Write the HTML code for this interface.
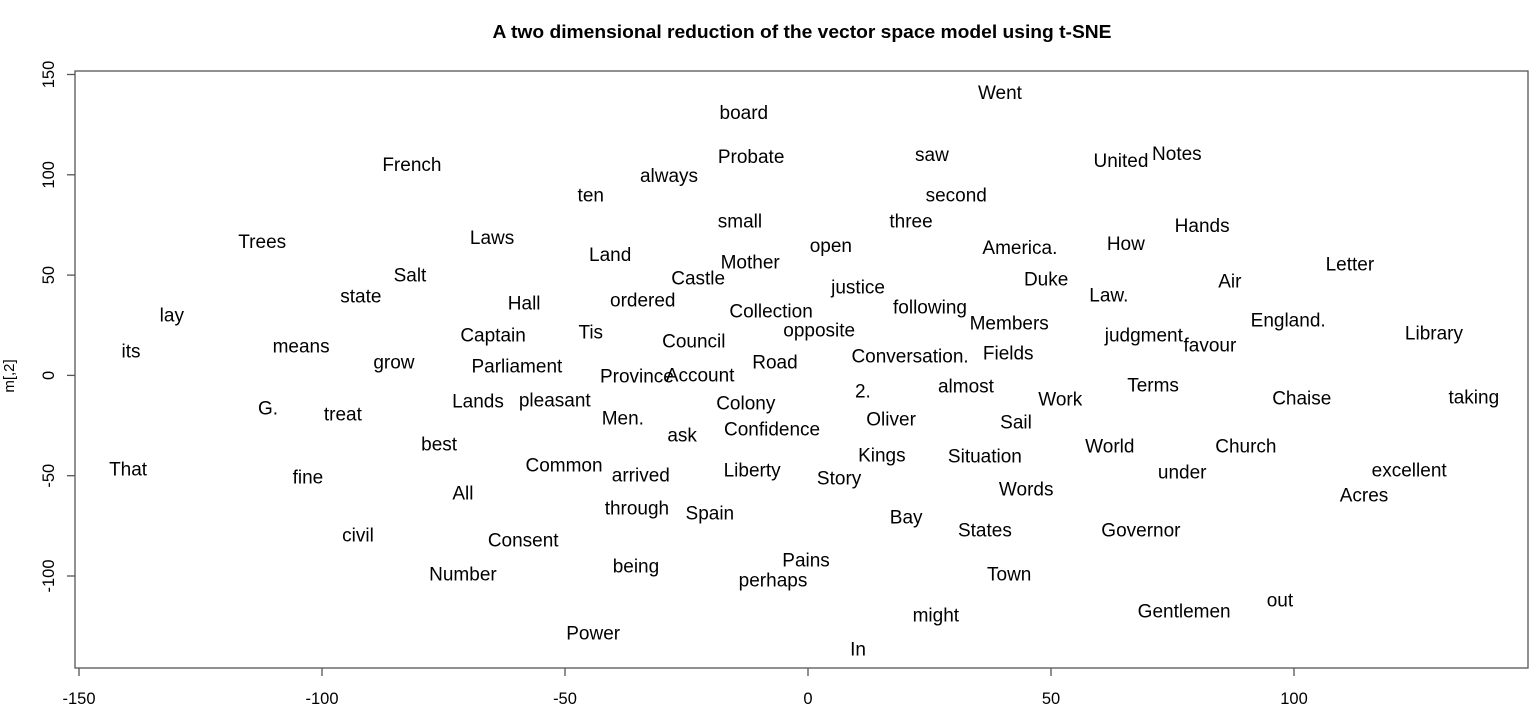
<!DOCTYPE html>
<html><head><meta charset="utf-8"><style>
html,body{margin:0;padding:0;background:#fff;}
svg{display:block;font-family:"Liberation Sans",Arial,sans-serif;}
</style></head><body>
<svg id="chart" width="1539" height="720">
<text x="802" y="38" text-anchor="middle" font-size="18" font-weight="bold" textLength="619" lengthAdjust="spacingAndGlyphs">A two dimensional reduction of the vector space model using t-SNE</text>
<rect x="75" y="71" width="1453" height="597" fill="none" stroke="#555" stroke-width="1.3"/>
<text transform="translate(14,376) rotate(-90)" text-anchor="middle" font-size="15">m[,2]</text>
<g id="axes"></g>
<g id="words"></g>
</svg>
<script>
const words = ["Went","board","French","saw","United","Notes","Probate","always","ten","second","small","three","Hands","Trees","Laws","open","America.","How","Land","Mother","Letter","Salt","Castle","Duke","Air","justice","state","Hall","ordered","Law.","following","Collection","lay","England.","Members","Captain","Tis","opposite","judgment","Library","Council","favour","its","means","Fields","Conversation.","grow","Parliament","Road","Province","Account","Terms","almost","2.","Chaise","taking","Work","G.","Lands","pleasant","Colony","treat","Men.","Oliver","Sail","ask","Confidence","best","World","Church","Kings","Situation","That","Common","Liberty","under","excellent","fine","arrived","Story","All","Words","Acres","through","Spain","Bay","civil","States","Governor","Consent","Pains","being","Number","Town","perhaps","out","Gentlemen","might","Power","In"];
const xVals = [39.5,-13.2,-81.5,25.5,64.4,75.9,-11.7,-28.6,-44.7,30.5,-14.0,21.2,81.1,-112.3,-65.0,4.7,43.6,65.4,-40.7,-11.9,111.5,-81.9,-22.6,49.0,86.8,10.3,-92.0,-58.4,-34.0,61.9,25.1,-7.6,-130.9,98.8,41.4,-64.8,-44.7,2.3,69.1,128.8,-23.5,82.7,-139.3,-104.3,41.2,21.0,-85.2,-59.9,-6.8,-35.2,-22.2,71.0,32.5,11.3,101.6,137.0,51.9,-111.1,-67.9,-52.1,-12.8,-95.7,-38.1,17.1,42.8,-25.9,-7.4,-75.9,62.1,90.1,15.2,36.4,-139.9,-50.2,-11.5,77.0,123.7,-102.9,-34.4,6.4,-71.0,44.9,114.4,-35.2,-20.2,20.2,-92.6,36.4,68.5,-58.6,-0.4,-35.4,-71.0,41.4,-7.2,97.1,77.4,26.3,-44.2,10.3];
const yVals = [141.2,131.2,105.3,110.3,107.3,110.8,109.3,99.8,90.3,90.3,77.3,77.3,74.9,66.9,68.9,64.9,63.9,65.9,60.4,56.9,55.9,50.4,48.9,48.4,47.4,44.4,39.9,36.4,37.9,40.4,34.4,32.4,30.4,27.9,26.4,20.5,22.0,23.0,20.5,21.5,17.5,15.5,12.5,15.0,11.5,10.0,7.0,5.0,7.0,0,0.5,-4.5,-5.0,-7.5,-11.0,-10.5,-11.5,-16.0,-12.5,-12.0,-13.5,-19.0,-21.0,-21.5,-23.0,-29.4,-26.4,-33.9,-34.9,-34.9,-39.4,-39.9,-46.4,-44.4,-46.9,-47.9,-46.9,-50.4,-49.4,-50.9,-58.4,-56.4,-59.4,-65.9,-68.4,-70.4,-79.3,-76.8,-76.8,-81.8,-91.8,-94.8,-98.8,-98.8,-101.8,-111.8,-117.3,-119.3,-128.2,-136.2];
const xTicks = [-150,-100,-50,0,50,100];
const yTicks = [150,100,50,0,-50,-100];

const NS = "http://www.w3.org/2000/svg";
function sx(v){ return 808 + v*4.86; }
function sy(v){ return 375.4 - v*2.006; }
const axes = document.getElementById('axes');
const wg = document.getElementById('words');
function mk(tag, attrs){ const e=document.createElementNS(NS,tag); for(const k in attrs) e.setAttribute(k,attrs[k]); return e; }

xTicks.forEach(t=>{
  const l = mk('line',{x1:sx(t),x2:sx(t),y1:668,y2:676,stroke:'#555','stroke-width':1.3});
  
  
  axes.appendChild(l);
  const tx = mk('text',{x:sx(t),y:704,'text-anchor':'middle','font-size':16.5});
  
  
  tx.textContent = t; axes.appendChild(tx);
});
yTicks.forEach(t=>{
  const l = mk('line',{x1:67,x2:75,y1:sy(t),y2:sy(t),stroke:'#555','stroke-width':1.3});
  
  
  axes.appendChild(l);
  const tx = mk('text',{'text-anchor':'middle','font-size':16.5,transform:'translate(54,'+sy(t)+') rotate(-90)'});
  
  
  tx.textContent = t; axes.appendChild(tx);
});
words.forEach((w,i)=>{
  const tx = mk('text',{x:sx(xVals[i]),y:sy(yVals[i])+7,'text-anchor':'middle','font-size':19});
  
  
  tx.textContent = w; wg.appendChild(tx);
});
</script>
</body></html>
